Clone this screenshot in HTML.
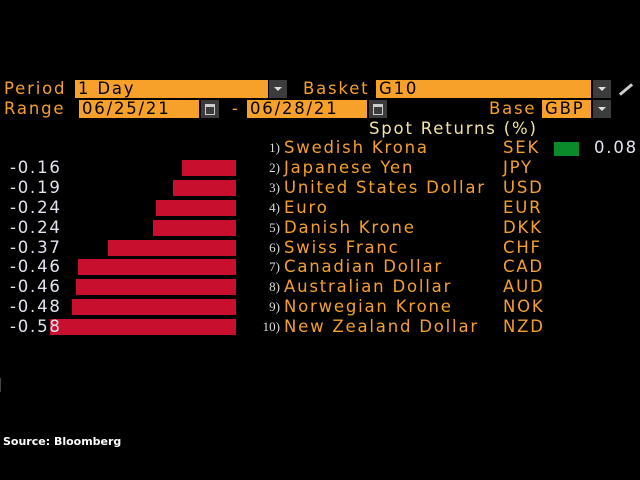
<!DOCTYPE html>
<html><head><style>
body{margin:0;width:640px;height:480px;background:#000;position:relative;overflow:hidden;font-family:"DejaVu Sans",sans-serif}
.a{position:absolute;white-space:nowrap}
.l{color:#f5a02c;font-size:16.5px;line-height:18px;letter-spacing:1.8px}
.f{background:#f7a12b;color:#000;font-size:16.5px;line-height:18px;height:18px;padding-left:3px;box-sizing:border-box;letter-spacing:1.8px}
.dd{background:#3c3c3c;width:18px;height:18px}
.dd:after{content:"";position:absolute;left:5px;top:7px;border-left:4px solid transparent;border-right:4px solid transparent;border-top:4px solid #ddd}
.cal{background:#3c3c3c;width:18px;height:18px}
.cal:after{content:"";position:absolute;left:4px;top:4px;width:8px;height:7px;border:1px solid #ccc;border-top-width:3px}
.n{color:#e4e4f0;font-size:16.5px;line-height:18px;letter-spacing:1.8px}
.bar{position:absolute;background:#c8102e;height:16px}
.r{color:#ddd;font-family:"Liberation Serif",serif;font-size:13px;line-height:18px;text-align:right;width:22px}
</style></head><body>
<div class="a l" style="left:4px;top:80px">Period</div>
<div class="a f" style="left:75px;top:80px;width:193px">1 Day</div>
<div class="a dd" style="left:269px;top:80px"></div>
<div class="a l" style="left:303px;top:80px">Basket</div>
<div class="a f" style="left:376px;top:80px;width:215px">G10</div>
<div class="a dd" style="left:593px;top:80px"></div>
<div class="a" style="left:618px;top:88px;width:16px;height:3px;background:#ccc;transform:rotate(-40deg)"></div>
<div class="a l" style="left:4px;top:100px">Range</div>
<div class="a f" style="left:79px;top:100px;width:120px">06/25/21</div>
<div class="a cal" style="left:201px;top:100px"></div>
<div class="a l" style="left:232px;top:100px">-</div>
<div class="a f" style="left:247px;top:100px;width:120px">06/28/21</div>
<div class="a cal" style="left:369px;top:100px"></div>
<div class="a l" style="left:489px;top:100px">Base</div>
<div class="a f" style="left:542px;top:100px;width:49px">GBP</div>
<div class="a dd" style="left:593px;top:100px"></div>
<div class="a l" style="left:369px;top:120px;color:#f3e3a0">Spot Returns (%)</div>

<div class="a" style="left:554px;top:142px;width:25px;height:14px;background:#0a8a2a"></div>
<div class="a n" style="left:594px;top:139px">0.08</div>

<div id="rows"></div>
<div class="a" style="left:3px;top:435px;color:#fff;font-weight:bold;font-size:11px">Source: Bloomberg</div>
<div class="a" style="left:0;top:378px;width:1px;height:14px;background:#444"></div>
<script>
var d=[["Swedish Krona","SEK",null,0],["Japanese Yen","JPY","-0.16",182],["United States Dollar","USD","-0.19",173],["Euro","EUR","-0.24",156],["Danish Krone","DKK","-0.24",153],["Swiss Franc","CHF","-0.37",108],["Canadian Dollar","CAD","-0.46",78],["Australian Dollar","AUD","-0.46",76],["Norwegian Krone","NOK","-0.48",72],["New Zealand Dollar","NZD","-0.58",50]];
var h="";
d.forEach(function(r,i){var y=139+i*19.9;
h+='<div class="a r" style="left:258px;top:'+y+'px">'+(i+1)+')</div>';
h+='<div class="a l" style="left:284px;top:'+y+'px">'+r[0]+'</div>';
h+='<div class="a l" style="left:503px;top:'+y+'px">'+r[1]+'</div>';
if(r[2]){h+='<div class="bar" style="left:'+r[3]+'px;width:'+(236-r[3])+'px;top:'+(y+1)+'px"></div>';
h+='<div class="a n" style="left:10px;top:'+y+'px">'+r[2]+'</div>';}
});
document.getElementById("rows").innerHTML=h;
</script>
</body></html>
